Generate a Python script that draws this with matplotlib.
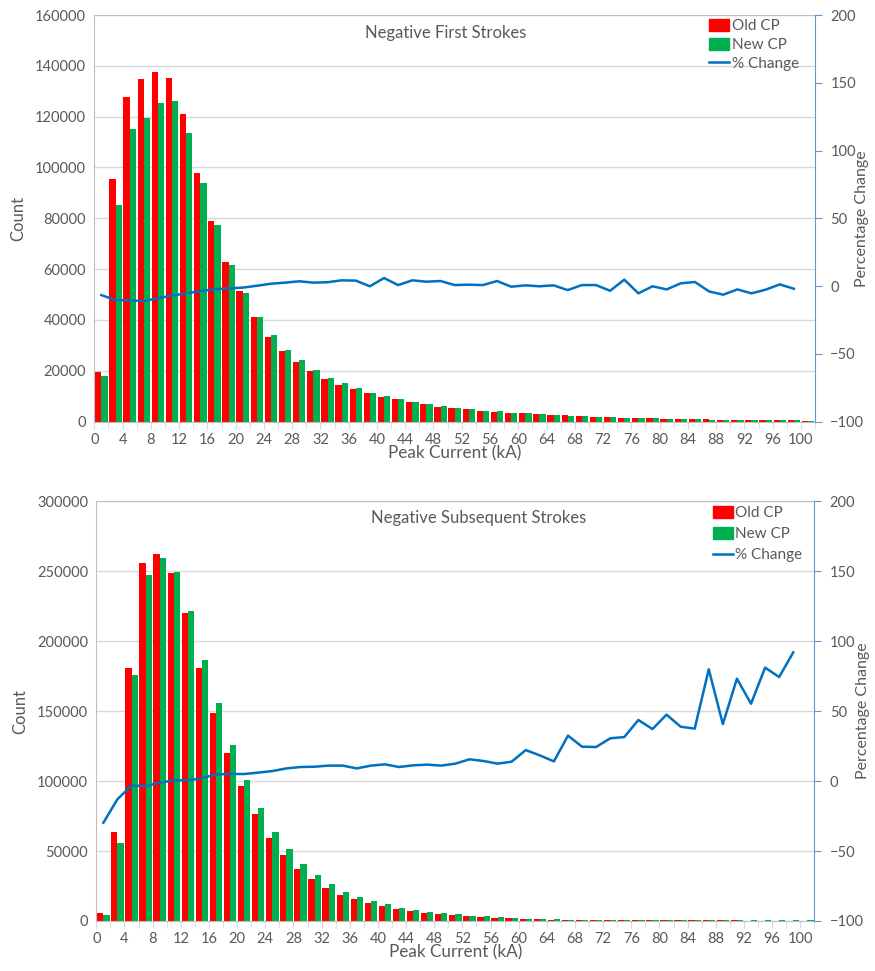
import numpy as np
import matplotlib
matplotlib.use("Agg")
import matplotlib.pyplot as plt
from matplotlib.patches import Patch
from matplotlib.lines import Line2D

plt.rcParams['font.family'] = ['Lato', 'DejaVu Sans']

# bin centres (kA), bins are 2 kA wide
bins = np.arange(1, 102, 2)
line_bins = np.arange(1, 100, 2)

first_old = [19400, 95300, 127700, 134700, 137700, 135200, 121200, 97800, 79000, 62700,
             51300, 41000, 33400, 27700, 23300, 19800, 16800, 14300, 12700, 11300,
             9700, 8900, 7500, 6700, 5900, 5500, 4800, 4300, 3800, 3400,
             3200, 2900, 2600, 2400, 2100, 1850, 1700, 1450, 1400, 1250,
             1100, 1000, 900, 820, 720, 640, 580, 520, 460, 420, 370]
first_new = [18000, 85200, 115100, 119600, 125400, 126200, 113400, 94000, 77200, 61600,
             50600, 41300, 34000, 28200, 24100, 20300, 17300, 15100, 13200, 11300,
             10100, 8800, 7800, 6900, 6100, 5500, 4900, 4300, 3950, 3400,
             3200, 2900, 2600, 2350, 2100, 1850, 1650, 1500, 1330, 1250,
             1070, 1020, 930, 790, 680, 620, 550, 510, 470, 410, 360]
first_pct = [-6.7, -10.4, -10.6, -11.1, -9.0, -7.0, -5.5, -3.7, -2.5, -1.7,
             -1.2, 0.2, 1.7, 2.5, 3.5, 2.5, 2.8, 4.2, 4.0, -0.2,
             5.9, 0.7, 4.2, 3.2, 3.7, 0.7, 1.0, 0.7, 3.7, -0.5,
             0.5, -0.2, 0.5, -3.0, 0.7, 0.7, -3.5, 4.7, -5.4, -0.2,
             -2.5, 2.0, 3.0, -4.0, -6.4, -2.5, -5.4, -2.7, 1.2, -2.0]

sub_old = [6000, 63800, 181000, 255700, 262400, 248300, 219800, 181000, 148300, 119800,
           96200, 76400, 59500, 47100, 37400, 29800, 23600, 18900, 15700, 12600,
           10700, 8500, 7000, 5600, 4900, 4000, 3300, 2900, 2400, 1900,
           1400, 1200, 1000, 800, 750, 650, 560, 520, 480, 460,
           440, 420, 400, 380, 370, 360, 350, 340, 330, 320, 310]
sub_new = [4000, 55500, 175700, 247400, 259300, 249500, 221700, 186700, 155700, 125500,
           100500, 80500, 63600, 51200, 40500, 32800, 26200, 20900, 17400, 14200,
           11900, 9600, 7700, 6300, 5500, 4700, 3900, 3400, 2700, 2200,
           1700, 1400, 1150, 1050, 930, 800, 730, 680, 690, 630,
           650, 580, 550, 680, 520, 620, 540, 610, 570, 610, 560]
sub_pct = [-29.8, -13.0, -3.2, -3.6, -1.2, 0.5, 0.5, 1.9, 4.8, 5.0,
           5.0, 6.0, 7.1, 9.0, 10.0, 10.2, 11.0, 11.0, 9.0, 11.0,
           11.9, 10.0, 11.2, 11.7, 11.0, 12.4, 15.5, 14.3, 12.4, 13.8,
           22.1, 18.3, 14.0, 32.4, 24.5, 24.3, 30.5, 31.4, 43.6, 37.1,
           47.4, 38.8, 37.4, 79.8, 40.7, 73.1, 55.2, 81.0, 74.3, 91.9]

RED = '#FF0000'
GREEN = '#00B050'
BLUE = '#0070C0'
TXT = '#595959'
GRID = '#D9D9D9'


def panel(rect, old, new, pct, ymax, ystep, title, title_xy, leg_xy, leg_sp, rlab_x):
    ax = fig.add_axes(rect)
    w = 0.88
    ax.bar(bins - w / 2, old, width=w, color=RED, zorder=2)
    ax.bar(bins + w / 2, new, width=w, color=GREEN, zorder=2)
    ax.set_xlim(0, 102)
    ax.set_ylim(0, ymax)
    ax.set_yticks(np.arange(0, ymax + 1, ystep))
    ax.set_xticks(np.arange(0, 101, 4))
    ax.set_xticks(np.arange(0, 103, 2), minor=True)
    ax.grid(axis='y', color=GRID, lw=1, zorder=0)
    ax.tick_params(axis='y', length=0, labelsize=10.5, labelcolor=TXT, pad=6)
    ax.tick_params(axis='x', which='both', length=5, color=GRID, labelsize=10.5,
                   labelcolor=TXT, pad=3)
    for s in ['left', 'top', 'bottom']:
        ax.spines[s].set_color('#BFBFBF')
    ax.spines['right'].set_visible(False)
    ax.set_ylabel('Count', fontsize=12, color=TXT, labelpad=6)
    ax.set_xlabel('Peak Current (kA)', fontsize=12.3, color=TXT, labelpad=-1)
    ax.text(title_xy[0], title_xy[1], title, transform=ax.transAxes, ha='center',
            va='center', fontsize=12, color=TXT)

    ax2 = ax.twinx()
    ax2.plot(line_bins, pct, color=BLUE, lw=1.8, zorder=3)
    ax2.set_ylim(-100, 200)
    ax2.set_yticks(np.arange(-100, 201, 50))
    ax2.set_xlim(0, 102)
    for s in ['left', 'top', 'bottom']:
        ax2.spines[s].set_visible(False)
    ax2.spines['right'].set_color('#5B9BD5')
    ax2.tick_params(axis='y', length=5, color='#5B9BD5', labelsize=10.5,
                    labelcolor=TXT, pad=6)
    ax2.set_ylabel('Percentage Change', fontsize=11.5, color=TXT)
    ax2.yaxis.set_label_coords(rlab_x, 0.5)

    handles = [Patch(color=RED, label='Old CP'), Patch(color=GREEN, label='New CP'),
               Line2D([0], [0], color=BLUE, lw=1.8, label='% Change')]
    ax2.legend(handles=handles, loc='upper left', bbox_to_anchor=leg_xy, frameon=False,
               fontsize=11, handlelength=1.3, handleheight=0.8, handletextpad=0.15,
               labelspacing=leg_sp, borderaxespad=0, labelcolor=TXT)


fig = plt.figure(figsize=(8.75, 9.71), dpi=100)

panel([0.1078, 0.5659, 0.8237, 0.4186], first_old, first_new, first_pct,
      160000, 20000, 'Negative First Strokes', (0.487, 0.955), (0.845, 1.005), 0.3, 1.055)
panel([0.1101, 0.0515, 0.8206, 0.4325], sub_old, sub_new, sub_pct,
      300000, 50000, 'Negative Subsequent Strokes', (0.533, 0.96), (0.85, 1.003), 0.45, 1.058)

fig.savefig('out.png', dpi=100)
